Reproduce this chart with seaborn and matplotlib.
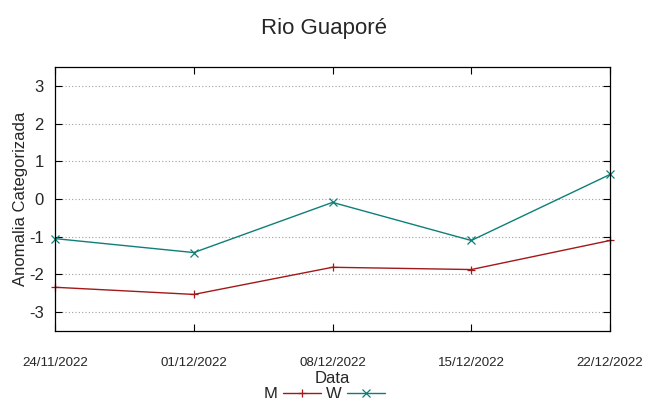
import matplotlib
matplotlib.use("Agg")
import matplotlib.pyplot as plt
import seaborn as sns
import pandas as pd

sns.set_theme(style="white")
plt.rcParams["font.family"] = ["Liberation Sans", "DejaVu Sans"]

dates = ["24/11/2022", "01/12/2022", "08/12/2022", "15/12/2022", "22/12/2022"]
serie_m = [-2.34, -2.53, -1.81, -1.87, -1.10]
serie_w = [-1.05, -1.42, -0.09, -1.10, 0.65]
yticks = [-3, -2, -1, 0, 1, 2, 3]

df = pd.DataFrame({
    "pos": list(range(len(dates))) * 2,
    "valor": serie_m + serie_w,
    "serie": ["M"] * len(dates) + ["W"] * len(dates),
})

fig = plt.figure(figsize=(6.48, 3.98), dpi=100)
ax = fig.add_axes([0.0849, 0.1683, 0.8565, 0.6634])

sns.lineplot(data=df, x="pos", y="valor", hue="serie", style="serie",
             palette={"M": "#a31818", "W": "#0d7f78"},
             markers={"M": "+", "W": "x"}, dashes=False,
             markersize=6, linewidth=1.0, ax=ax)
for ln in ax.lines:
    ln.set_markeredgecolor(ln.get_color())
    ln.set_markeredgewidth(0.9)
    ln.set_clip_on(False)

ax.set_xlim(0, len(dates) - 1)
ax.set_ylim(-3.5, 3.5)
ax.set_xticks(range(len(dates)))
ax.set_xticklabels(dates, fontsize=9.6)
ax.set_yticks(yticks)
ax.set_yticklabels([str(v) for v in yticks], fontsize=12)
ax.yaxis.grid(True, linestyle=(0, (1, 2)), color="#a0a0a0", linewidth=0.8)
ax.xaxis.grid(False)

ax.tick_params(axis="both", direction="in", length=5, width=0.8, color="black",
               top=True, right=True, bottom=True, left=True)
ax.tick_params(axis="x", pad=19)
ax.tick_params(axis="y", pad=8)
for s in ax.spines.values():
    s.set_color("black")
    s.set_linewidth(0.9)

ax.set_xlabel("Data", fontsize=12, labelpad=1)
ax.set_ylabel("Anomalia Categorizada", fontsize=12, labelpad=1)
fig.suptitle("Rio Guaporé", fontsize=16, y=0.955)

handles, labels = ax.get_legend_handles_labels()
for h in handles:
    h.set_markeredgecolor(h.get_color())
    h.set_markeredgewidth(0.9)
    h.set_markersize(6)
ax.legend(handles, labels, loc="upper center", bbox_to_anchor=(0.486, -0.18),
          ncol=2, frameon=False, markerfirst=False, fontsize=12,
          handlelength=2.3, columnspacing=0.3, handletextpad=0.3, borderpad=0)

fig.savefig("out.png", dpi=100)
